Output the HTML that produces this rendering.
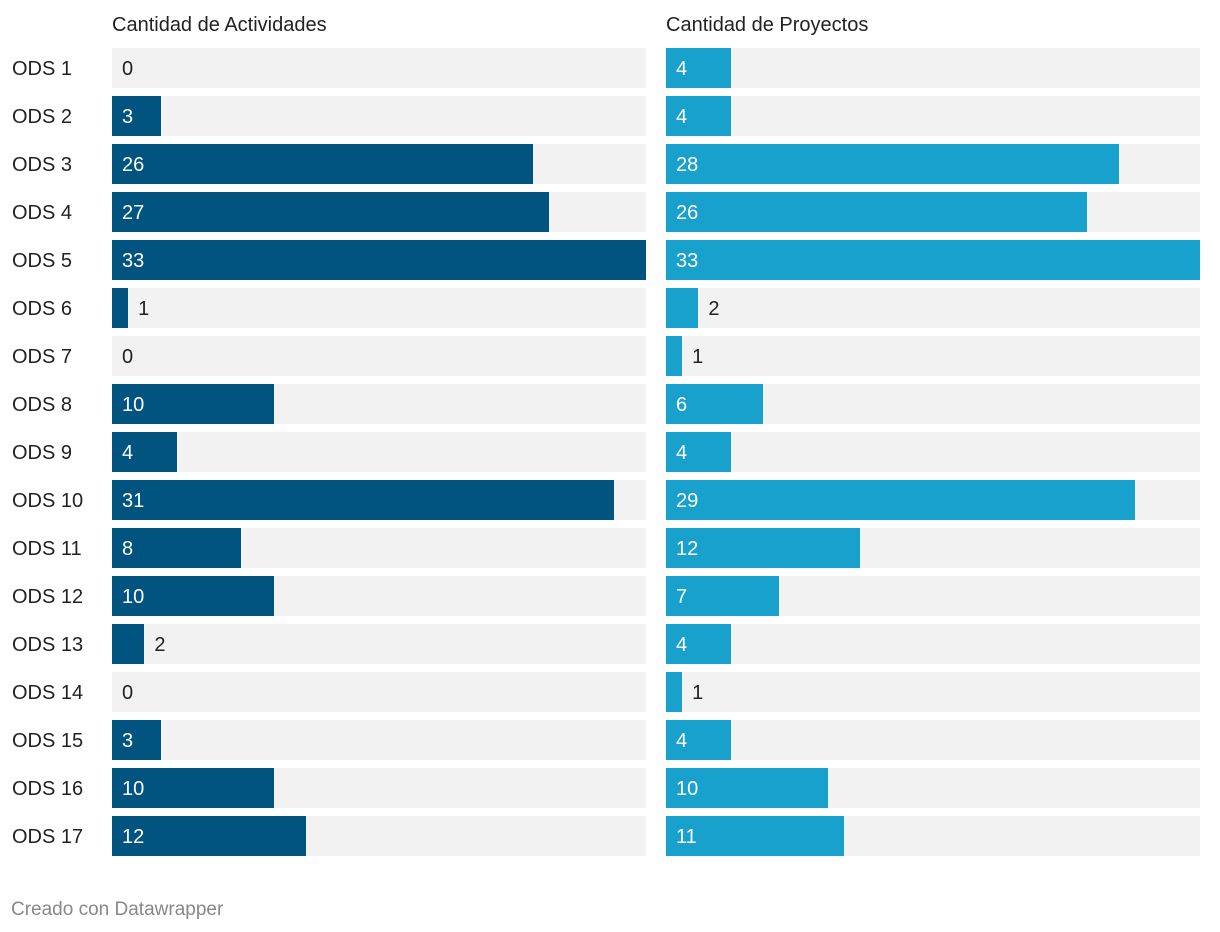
<!DOCTYPE html>
<html><head><meta charset="utf-8">
<style>
body{margin:0;background:#fff;width:1220px;height:932px;overflow:hidden;font-family:"Liberation Sans",sans-serif;}
#c{position:relative;width:1220px;height:932px;}
.t{position:absolute;font-size:20px;color:#222;white-space:nowrap;}
</style></head><body>
<div id="c">
<div class="t" style="left:112px;top:14px;">Cantidad de Actividades</div>
<div class="t" style="left:666px;top:14px;">Cantidad de Proyectos</div>
<div class="t" style="left:11px;top:899px;color:#888;font-size:19px;">Creado con Datawrapper</div>
</div>
<script>
const categories=["ODS 1","ODS 2","ODS 3","ODS 4","ODS 5","ODS 6","ODS 7","ODS 8","ODS 9","ODS 10","ODS 11","ODS 12","ODS 13","ODS 14","ODS 15","ODS 16","ODS 17"];
const actividades=[0,3,26,27,33,1,0,10,4,31,8,10,2,0,3,10,12];
const proyectos=[4,4,28,26,33,2,1,6,4,29,12,7,4,1,4,10,11];
const c=document.getElementById('c');
const W=534,top0=48,pitch=48,bh=40;
function sx(v,max){return v/max*W;}
function panel(vals,x0,color,pname){
  const max=Math.max(...vals);
  vals.forEach((v,i)=>{
    const y=top0+i*pitch;
    const bg=document.createElement('div');
    
    
    bg.style.cssText=`position:absolute;left:${x0}px;top:${y}px;width:${W}px;height:${bh}px;background:#f2f2f2;`;
    c.appendChild(bg);
    const w=sx(v,max);
    const b=document.createElement('div');
    
    
    b.style.cssText=`position:absolute;left:${x0}px;top:${y}px;width:${w}px;height:${bh}px;background:${color};`;
    c.appendChild(b);
    const l=document.createElement('div');
    
    
    l.className='t';
    const inside=w>=40;
    l.style.left=(inside?x0+10:x0+w+10)+'px';
    l.style.top=(y+10)+'px';
    l.style.color=inside?'#fff':'#222';
    l.textContent=v;
    c.appendChild(l);
  });
}
categories.forEach((n,i)=>{
  const l=document.createElement('div');
  
  
  l.className='t';
  l.style.left='12px';l.style.top=(top0+i*pitch+10)+'px';
  l.textContent=n;c.appendChild(l);
});
panel(actividades,112,'#01547f','actividades');
panel(proyectos,666,'#18a1cd','proyectos');
</script>
</body></html>
